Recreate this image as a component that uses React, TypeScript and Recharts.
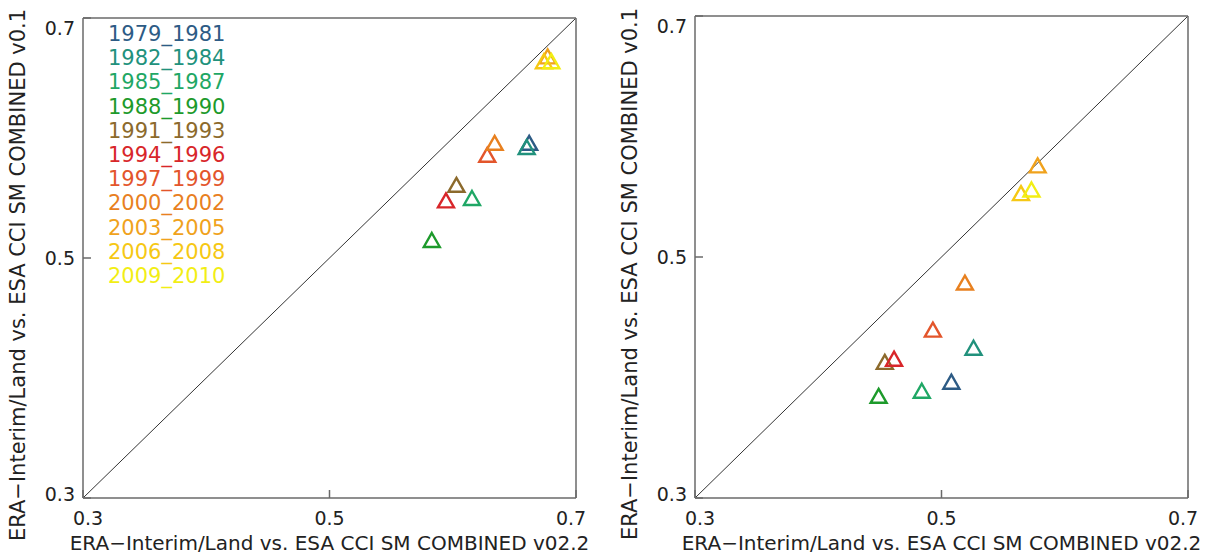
import { ScatterChart, Scatter, XAxis, YAxis, ReferenceLine, Legend } from "recharts";

const periods = [
  "1979_1981", "1982_1984", "1985_1987", "1988_1990", "1991_1993", "1994_1996",
  "1997_1999", "2000_2002", "2003_2005", "2006_2008", "2009_2010",
];
const periodColors = [
  "#2d5b85", "#21917c", "#1fa765", "#1d9a2b", "#8c6a2c", "#d8262a",
  "#e3552b", "#e8801f", "#f0a21c", "#f6c814", "#f2ee14",
];

// left panel (x: v02.2 correlation, y: v0.1 correlation)
const leftX = [0.662, 0.660, 0.6156, 0.583, 0.603, 0.5945, 0.628, 0.634, 0.677, 0.674, 0.680];
const leftY = [0.596, 0.5925, 0.550, 0.515, 0.561, 0.548, 0.586, 0.596, 0.668, 0.664, 0.664];

// right panel
const rightX = [0.508, 0.526, 0.484, 0.449, 0.454, 0.4615, 0.493, 0.519, 0.578, 0.5645, 0.573];
const rightY = [0.3965, 0.4247, 0.389, 0.3848, 0.413, 0.4156, 0.4397, 0.4788, 0.576, 0.553, 0.556];

const axisDomain = [0.3, 0.7];
const axisTicks = [0.3, 0.5, 0.7];
const xTitle = "ERA\u2212Interim/Land vs. ESA CCI SM COMBINED v02.2";
const yTitle = "ERA\u2212Interim/Land vs. ESA CCI SM COMBINED v0.1";

const FONT = "'DejaVu Sans', sans-serif";
const FRAME = "#6a6a6a";
const TEXT = "#222";

// open triangle marker, 16px wide and 14px tall around the point
const Triangle = ({ cx, cy, stroke }: any) => (
  <path
    d={`M${cx},${cy - 7}L${cx + 8},${cy + 7}L${cx - 8},${cy + 7}Z`}
    fill="none"
    stroke={stroke}
    strokeWidth={2.4}
    strokeLinejoin="miter"
  />
);

const XTick = ({ x, y, payload }: any) => {
  const v = payload.value;
  const dx = v === 0.3 ? 5 : v === 0.7 ? -5 : 0;
  return (
    <text x={x + dx} y={y + 20} textAnchor="middle" dominantBaseline="central" fontSize={19} fontFamily={FONT} fill={TEXT}>
      {v.toFixed(1)}
    </text>
  );
};

const YTick = ({ x, y, payload }: any) => {
  const v = payload.value;
  const dy = v === 0.7 ? 10 : v === 0.3 ? -4 : 0;
  return (
    <text x={x - 8} y={y + dy} textAnchor="end" dominantBaseline="central" fontSize={19} fontFamily={FONT} fill={TEXT}>
      {v.toFixed(1)}
    </text>
  );
};

const renderXTitle = (props: any) => {
  const vb = props.viewBox;
  return (
    <text x={vb.x + vb.width / 2} y={vb.y + 45} textAnchor="middle" dominantBaseline="central" fontSize={20} fontFamily={FONT} fill={TEXT}>
      {xTitle}
    </text>
  );
};

const renderYTitle = (props: any) => {
  const vb = props.viewBox;
  const cx = vb.x + 18;
  const cy = vb.y + vb.height / 2 + 17;
  return (
    <text x={cx} y={cy} transform={`rotate(-90, ${cx}, ${cy})`} textAnchor="middle" dominantBaseline="central" fontSize={21} fontFamily={FONT} fill={TEXT}>
      {yTitle}
    </text>
  );
};

const renderLegend = (props: any) => (
  <div style={{ fontFamily: FONT, fontSize: 21, lineHeight: "24.2px" }}>
    {(props.payload || []).map((entry: any) => (
      <div key={entry.value} style={{ color: periodColors[periods.indexOf(entry.value)], whiteSpace: "nowrap" }}>
        {entry.value}
      </div>
    ))}
  </div>
);

function Panel({ xs, ys, top, withLegend }: { xs: number[]; ys: number[]; top: number; withLegend: boolean }) {
  return (
    <ScatterChart width={600} height={557} margin={{ top, right: 23, bottom: 0, left: 0 }}>
      <XAxis
        type="number"
        dataKey="x"
        domain={axisDomain}
        ticks={axisTicks}
        height={59}
        tickSize={-8}
        tickMargin={8}
        tick={<XTick />}
        stroke={FRAME}
        strokeWidth={1.5}
        label={renderXTitle}
      />
      <XAxis xAxisId="top" orientation="top" type="number" domain={axisDomain} ticks={[0.5]} height={1} tickSize={-8} tick={false} stroke={FRAME} strokeWidth={1.5} />
      <YAxis
        type="number"
        dataKey="y"
        domain={axisDomain}
        ticks={axisTicks}
        width={83}
        tickSize={-8}
        tickMargin={8}
        tick={<YTick />}
        stroke={FRAME}
        strokeWidth={1.5}
        label={renderYTitle}
      />
      <YAxis yAxisId="right" orientation="right" type="number" domain={axisDomain} ticks={[0.5]} width={1} tickSize={-8} tick={false} stroke={FRAME} strokeWidth={1.5} />
      <ReferenceLine
        segment={[{ x: axisDomain[0], y: axisDomain[0] }, { x: axisDomain[1], y: axisDomain[1] }]}
        stroke="#333"
        strokeWidth={1}
      />
      {periods.map((p, i) => (
        <Scatter
          key={p}
          name={p}
          data={[{ x: xs[i], y: ys[i] }]}
          shape={<Triangle />}
          fill="none"
          stroke={periodColors[i]}
          isAnimationActive={false}
        />
      ))}
      {withLegend && (
        <Legend
          layout="vertical"
          align="center"
          verticalAlign="middle"
          wrapperStyle={{ left: 108, top: 22, width: 160 }}
          content={renderLegend}
        />
      )}
    </ScatterChart>
  );
}

export default function App() {
  return (
    <div style={{ position: "absolute", left: 0, top: 0, width: 1212, height: 557, background: "#fff", display: "flex" }}>
      <div style={{ width: 612 }}>
        <Panel xs={leftX} ys={leftY} top={17} withLegend={true} />
      </div>
      <div style={{ width: 600 }}>
        <Panel xs={rightX} ys={rightY} top={15} withLegend={false} />
      </div>
    </div>
  );
}
